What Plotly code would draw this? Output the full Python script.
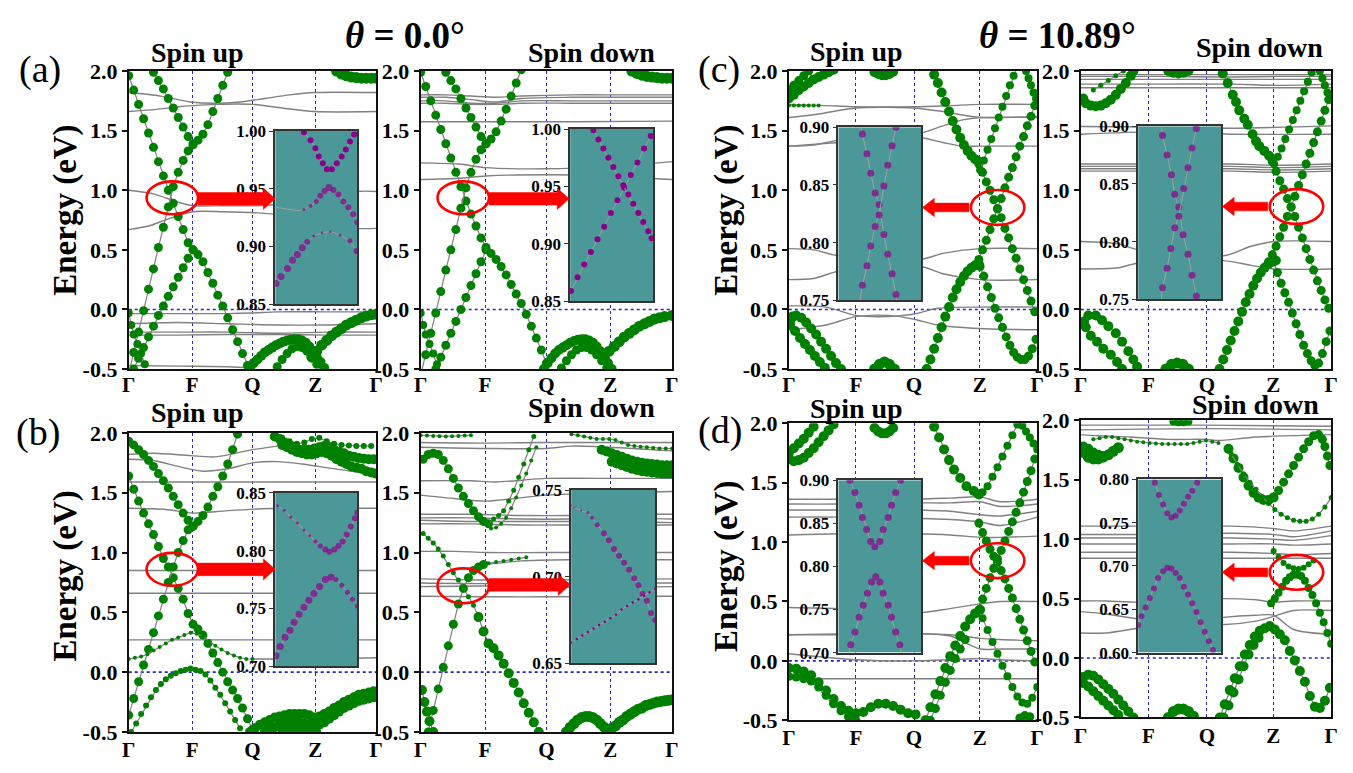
import plotly.graph_objects as go

W, H = 1353, 773
SERIF = "Liberation Serif"
GREEN = "#008000"
BAND_GRAY = "#808080"
PURPLE = "#8b008b"
TEAL = "#4c9898"
RED = "#ff0000"
DOT_BLUE = "#2323c8"

K_LABELS = ["Γ", "F", "Q", "Z", "Γ"]
K_TICKS_LEFT = [0.0, 0.256, 0.50, 0.754, 1.0]
K_TICKS_RIGHT = [0.0, 0.27, 0.504, 0.769, 1.0]
E_TICKS = [-0.5, 0.0, 0.5, 1.0, 1.5, 2.0]
E_TICKTEXT = ["-0.5", "0.0", "0.5", "1.0", "1.5", "2.0"]

# ---------------- (a) theta = 0.0, spin up ----------------
A_UP_GRAY = [
    ([0, .13, .25, .35, .45, .55, .65, .75, 1], [1.82, 1.79, 1.74, 1.73, 1.74, 1.77, 1.80, 1.82, 1.82]),
    ([0, .12, .2, .26, .35, .5, .62, .75, 1], [1.66, 1.68, 1.70, 1.71, 1.72, 1.72, 1.69, 1.66, 1.66]),
    ([0, .1, .2, .26, .38, .5, .6, .75, .92, 1], [1.0, .97, .90, .87, .87, .87, .88, .93, .99, .99]),
    ([0, .08, .16, .26, .38, .52, .62, .75, .92, 1], [.67, .70, .76, .82, .82, .81, .79, .74, .68, .68]),
    ([0, .2, .4, .5, .6, .8, 1], [-.035, -.035, -.035, -.03, -.02, -.02, -.02]),
    ([0, .2, .4, .6, .8, 1], [-.12, -.11, -.12, -.13, -.13, -.12]),
    ([0, .2, .4, .6, .8, 1], [-.19, -.19, -.19, -.20, -.19, -.19]),
    ([0, .2, .4, .6, .8, 1], [-.215, -.215, -.21, -.21, -.215, -.215]),
    ([0, .2, .4, .5], [-.47, -.475, -.48, -.49]),
]
A_UP_GREEN = [
    ((0, .02), [1.96, 1.84, 1.72, 1.60, 1.48, 1.36, 1.24, 1.12, 1.00, 0.89, 0.78, 0.67, 0.56, 0.50, 0.46, 0.40,
                0.31, 0.22, 0.12, 0.03, -0.07, -0.17, -0.27, -0.37, -0.47, -0.56], 8),
    ((0, .02), [-0.54, -0.36, -0.19, -0.01, 0.17, 0.34, 0.52, 0.69, 0.86, 1.03, 1.15, 1.25, 1.33, 1.38, 1.42,
                1.47, 1.55, 1.66, 1.77, 1.88, 1.99], 8),
    ((.10, .02), [1.99, 1.92, 1.85, 1.77, 1.69, 1.61, 1.53, 1.45, 1.39], 8),
    ((.02, .02), [-0.50, -0.41, -0.32, -0.23, -0.14, -0.05, 0.03, 0.11, 0.19, 0.27, 0.35, 0.43, 0.50], 8),
    ([0, .01, .02, .035, .05, .065], [-.03, -.13, -.21, -.29, -.37, -.46], 7),
    ((.49, .015), [-.49, -.45, -.42, -.39, -.36, -.34, -.32, -.30, -.285, -.27, -.26, -.255, -.25, -.25, -.26,
                   -.28, -.31, -.35, -.40, -.44, -.49], 9),
    ((.60, .02), [-.48, -.42, -.37, -.33, -.31, -.32, -.35, -.40, -.46], 8),
    ((.74, .02), [-.40, -.35, -.30, -.26, -.22, -.19, -.16, -.13, -.11, -.09, -.07, -.055, -.045, -.04], 10),
    ((.84, .02), [2.0, 1.975, 1.96, 1.95, 1.945, 1.94, 1.94, 1.94, 1.94], 10),
]
A_UP_INSET = [
    ([.35, .43, .49, .53, .58, .63, .69, .75, .81, .86, .91, .96],
     [.999, .992, .985, .978, .972, .967, .967, .972, .978, .984, .991, .997], 6),
    ([0, .1, .2, .28, .35, .43, .50, .55, .60, .655, .71, .77, .83, .89, .95, 1.0],
     [.934, .933, .932, .931, .932, .935, .939, .944, .948, .951, .949, .945, .939, .934, .928, .921],
     [0, 0, 0, 0, 3, 4, 5, 6, 6, 7, 6, 6, 6, 6, 6, 6]),
    ([.01, .07, .15, .21, .27, .33, .39, .47, .57, .67, .79, .91, .99],
     [.868, .874, .881, .888, .893, .899, .904, .909, .912, .913, .910, .905, .896],
     [7, 7, 7, 7, 7, 7, 6, 3, 2.5, 2.5, 3, 5, 6]),
]

# ---------------- (a) theta = 0.0, spin down ----------------
A_DN_GRAY = [
    ([0, .1, .2, .3, .4, .6, .8, 1], [1.80, 1.80, 1.79, 1.78, 1.79, 1.80, 1.80, 1.80]),
    ([0, .1, .2, .3, .4, .6, .8, 1], [1.78, 1.78, 1.76, 1.74, 1.77, 1.78, 1.78, 1.78]),
    ([0, .1, .2, .3, .4, .6, .8, 1], [1.75, 1.75, 1.73, 1.73, 1.75, 1.75, 1.75, 1.75]),
    ([0, .1, .2, .3, .4, .6, .8, 1], [1.73, 1.73, 1.72, 1.72, 1.73, 1.73, 1.73, 1.73]),
    ([0, .3, .6, 1], [1.575, 1.575, 1.575, 1.58]),
    ([0, .15, .26, .5, .75, 1], [1.23, 1.22, 1.19, 1.18, 1.20, 1.24]),
    ([0, .15, .26, .5, .75, 1], [1.09, 1.10, 1.12, 1.13, 1.12, 1.09]),
]
A_DN_GREEN = [
    ((0, .02), [1.99, 1.87, 1.75, 1.63, 1.51, 1.39, 1.27, 1.15, 1.03, 0.91, 0.80, 0.70, 0.60, 0.52, 0.47, 0.42,
                0.36, 0.29, 0.21, 0.13, 0.05, -0.04, -0.14, -0.24, -0.34, -0.45, -0.55], 8),
    ((0, .02), [-0.55, -0.38, -0.20, -0.03, 0.15, 0.33, 0.50, 0.67, 0.85, 1.02, 1.15, 1.26, 1.34, 1.39, 1.43,
                1.49, 1.58, 1.68, 1.79, 1.90, 2.01], 8),
    ((.10, .02), [1.99, 1.92, 1.85, 1.77, 1.69, 1.61, 1.53, 1.45, 1.39], 8),
    ((.06, .02), [-0.5, -0.40, -0.30, -0.20, -0.10, 0.0, 0.10, 0.20, 0.30, 0.40, 0.50], 8),
    ([0, .01, .02, .035, .05, .065], [-.03, -.13, -.21, -.29, -.37, -.46], 7),
    ((.49, .015), [-.50, -.45, -.41, -.37, -.34, -.32, -.30, -.28, -.265, -.255, -.25, -.25, -.26, -.28, -.31,
                   -.35, -.40, -.45, -.50], 9),
    ((.56, .02), [-.49, -.43, -.38, -.34, -.32, -.32, -.34, -.38, -.43, -.49], 8),
    ([.73, .75, .77, .79, .81, .83, .85, .87, .89, .91, .93, .95, .97, 1.0],
     [-.40, -.35, -.31, -.27, -.23, -.20, -.17, -.14, -.12, -.10, -.08, -.07, -.06, -.05], 10),
    ((.84, .02), [2.0, 1.98, 1.965, 1.955, 1.95, 1.945, 1.94, 1.94, 1.94], 10),
]
A_DN_INSET = [
    ([.01, .09, .17, .25, .33, .41, .49, .57, .65, .73, .81, .89, .97],
     [.859, .871, .882, .893, .904, .915, .927, .938, .949, .960, .971, .983, .994], 6),
    ([.28, .34, .40, .46, .52, .58, .64, .70, .76, .82, .88, .94, .98],
     [.999, .991, .983, .975, .967, .959, .951, .943, .935, .927, .919, .911, .905], 6),
]

# ---------------- (c) theta = 10.89, spin up ----------------
C_UP_GRAY = [
    ([0, .15, .27, .5, .65, .77, 1], [1.72, 1.71, 1.70, 1.70, 1.71, 1.72, 1.72]),
    ([0, .12, .27, .5, .62, .77, 1], [1.61, 1.64, 1.69, 1.69, 1.66, 1.61, 1.62]),
    ([0, .1, .2, .53, .62, .7, .77, 1], [1.37, 1.38, 1.42, 1.48, 1.54, 1.59, 1.61, 1.61]),
    ([0, .2, .53, .62, .7, .77, 1], [1.37, 1.40, 1.44, 1.40, 1.37, 1.37, 1.37]),
    ([0, .1, .2, .53, .62, .77, 1], [.51, .50, .45, .42, .47, .51, .51]),
    ([0, .1, .2, .53, .62, .77, 1], [.25, .26, .32, .36, .30, .25, .25]),
    ([0, .15, .27, .4, .5, .6, .77, 1], [.03, .02, -.05, -.06, -.04, .01, .02, .02]),
    ([0, .15, .27, .4, .5, .6, .77, 1], [-.17, -.13, -.06, -.05, -.08, -.13, -.16, -.17]),
]
C_UP_GREEN = [
    ((0, .02), [1.77, 1.80, 1.84, 1.87, 1.90, 1.93, 1.95, 1.97, 1.99, 2.01], 9),
    ((0, .02), [1.84, 1.88, 1.92, 1.96, 2.0], 8),
    ((0, .02), [1.71, 1.71, 1.71, 1.71, 1.71, 1.71, 1.71], 4),
    ((.345, .015), [1.99, 1.975, 1.965, 1.965, 1.975, 1.995], 9),
    ([.585, .60, .615, .63, .645, .66, .675, .69, .705, .72, .735, .75, .765],
     [1.97, 1.90, 1.82, 1.74, 1.66, 1.58, 1.51, 1.44, 1.38, 1.33, 1.29, 1.26, 1.24], 9),
    ((.765, .015), [1.22, 1.15, 1.07, 1.00, .92, .845, .77, .68, .60, .51, .43, .34, .25, .16, .07, -.02], 8),
    ((.75, .015), [.37, .42, .50, .58, .67, .76, .845, .93, 1.02, 1.11, 1.19, 1.28, 1.37, 1.45, 1.54, 1.62,
                   1.71], 8),
    ((.77, .015), [1.17, 1.25, 1.34, 1.43, 1.52, 1.61, 1.70, 1.79, 1.88, 1.96, 2.04], 7),
    ((.955, .01), [2.0, 1.94, 1.88, 1.82, 1.77], 7),
    ((.555, .015), [-.50, -.42, -.33, -.24, -.15, -.06, .02, .10, .17, .23, .28, .32, .35, .37, .38], 9),
    ((.77, .015), [.36, .28, .19, .10, .01, -.07, -.15, -.23, -.30, -.36, -.40, -.42, -.42, -.39, -.33, -.25], 8),
    ([.005, .015, .03, .05, .07, .09, .11, .13, .15, .17, .19, .21],
     [-.10, -.06, -.05, -.07, -.11, -.16, -.21, -.27, -.33, -.39, -.45, -.50], 9),
    ((.005, .02), [-.13, -.18, -.24, -.29, -.34, -.39, -.44, -.49], 9),
    ((.345, .02), [-.50, -.46, -.44, -.46, -.50], 10),
]
C_UP_INSET = [
    ([.27, .29, .345, .39, .444, .492, .548, .595, .647, .694, .70],
     [.90, .894, .877, .860, .843, .833, .807, .790, .773, .755, .75], [0, 7, 7, 7, 7, 7, 7, 7, 7, 7, 0]),
    ([.70, .694, .647, .595, .548, .492, .444, .39, .345, .29, .26],
     [.905, .90, .884, .867, .849, .824, .814, .797, .780, .763, .75], [0, 7, 7, 7, 7, 7, 7, 7, 7, 7, 0]),
]

# ---------------- (c) theta = 10.89, spin down ----------------
C_DN_GRAY = [
    ([0, .3, .6, .8, 1], [1.97, 1.97, 1.97, 1.97, 1.97]),
    ([0, .3, .6, .8, 1], [1.955, 1.955, 1.95, 1.955, 1.955]),
    ([0, .3, .6, .8, 1], [1.93, 1.93, 1.93, 1.93, 1.93]),
    ([0, .3, .6, .8, 1], [1.89, 1.89, 1.89, 1.88, 1.89]),
    ([0, .3, .6, .8, 1], [1.86, 1.86, 1.86, 1.86, 1.86]),
    ([0, .3, .6, 1], [1.535, 1.53, 1.52, 1.54]),
    ([0, .3, .6, 1], [1.47, 1.49, 1.47, 1.47]),
    ([0, .3, .6, .8, 1], [1.22, 1.22, 1.22, 1.21, 1.22]),
    ([0, .3, .6, .8, 1], [1.20, 1.20, 1.20, 1.19, 1.20]),
    ([0, .3, .6, .8, 1], [1.18, 1.18, 1.18, 1.17, 1.18]),
    ([0, .3, .6, .8, 1], [1.16, 1.16, 1.16, 1.15, 1.16]),
    ([0, .15, .23, .57, .68, .77, 1], [.57, .55, .50, .45, .53, .57, .57]),
    ([0, .15, .23, .57, .68, .77, 1], [.34, .35, .39, .41, .37, .34, .34]),
]
C_DN_GREEN = [
    ([.01, .02, .04, .06, .08, .10, .12, .14, .16, .18, .20, .21],
     [1.77, 1.73, 1.71, 1.705, 1.71, 1.73, 1.76, 1.80, 1.85, 1.90, 1.96, 2.0], 9),
    ((.05, .03), [1.84, 1.88, 1.92, 1.96, 2.0], 5),
    ((.35, .02), [2.0, 1.985, 1.98, 1.985, 2.0], 9),
    ([.567, .587, .607, .62, .633, .653, .667, .686, .70, .713, .733, .752, .765],
     [1.98, 1.90, 1.80, 1.74, 1.67, 1.60, 1.55, 1.47, 1.41, 1.37, 1.33, 1.29, 1.26], 9),
    ((.765, .015), [1.24, 1.16, 1.08, 1.01, .93, .86, .78, .69, .60, .51, .42, .33, .24, .16, .08, .01], 8),
    ((.75, .015), [.40, .46, .53, .61, .69, .78, .86, .95, 1.04, 1.13, 1.22, 1.31, 1.40, 1.49, 1.58, 1.67,
                   1.76], 8),
    ((.772, .015), [1.22, 1.28, 1.35, 1.43, 1.51, 1.59, 1.67, 1.75, 1.83, 1.91, 1.99], 7),
    ((.955, .01), [2.0, 1.94, 1.88, 1.82, 1.77], 7),
    ((.554, .015), [-.50, -.42, -.34, -.26, -.18, -.10, -.02, .06, .13, .20, .26, .31, .35, .38, .40, .41], 9),
    ((.77, .015), [.40, .31, .22, .14, .06, -.03, -.12, -.21, -.30, -.37, -.43, -.47, -.45, -.37, -.27, -.18], 8),
    ([.013, .03, .06, .085, .11, .14, .165, .19, .21, .225],
     [-.10, -.05, -.05, -.09, -.14, -.20, -.27, -.35, -.42, -.48], 9),
    ([.02, .04, .065, .09, .12, .145, .165], [-.15, -.22, -.27, -.33, -.38, -.44, -.50], 9),
    ((.34, .0225), [-.50, -.46, -.45, -.46, -.50], 10),
]
C_DN_INSET = [
    ([.28, .292, .348, .40, .44, .488, .54, .60, .648, .70, .71],
     [.90, .892, .875, .858, .841, .830, .806, .789, .771, .753, .75], [0, 7, 7, 7, 7, 7, 7, 7, 7, 7, 0]),
    ([.71, .70, .648, .60, .548, .488, .44, .392, .348, .292, .28],
     [.905, .898, .881, .864, .846, .822, .812, .794, .777, .760, .75], [0, 7, 7, 7, 7, 7, 7, 7, 7, 7, 0]),
]

# ---------------- (b) spin up ----------------
B_UP_GRAY = [
    ([0, .1, .25, .35, .5, .6], [1.82, 1.83, 1.81, 1.80, 1.86, 1.89]),
    ([0, .1, .2, .3, .4, .5, .6, .7, .8, .9, 1], [1.78, 1.77, 1.72, 1.68, 1.70, 1.75, 1.76, 1.74, 1.71, 1.68, 1.66]),
    ([0, .5, 1], [1.59, 1.59, 1.59]),
    ([0, .15, .26, .4, .6, .8, 1], [1.37, 1.36, 1.33, 1.35, 1.37, 1.37, 1.37]),
    ([0, .5, 1], [.85, .85, .85]),
    ([0, .5, 1], [.66, .66, .66]),
    ([0, .5, 1], [.27, .27, .27]),
    ([.5, .75, 1], [.11, .11, .12]),
]
B_UP_GREEN = [
    ((0, .02), [1.64, 1.53, 1.43, 1.33, 1.24, 1.15, 1.05, .95, .88, .79, .70, .61, .49, .40, .36, .31, .24, .16,
                .08, 0.0, -.08, -.15, -.22, -.30, -.39, -.48], 8),
    ((0, .02), [-.36, -.22, -.08, .06, .19, .33, .47, .61, .75, .88, 1.00, 1.10, 1.19, 1.22, 1.26, 1.31, 1.38,
                1.47, 1.55, 1.64, 1.74, 1.86, 1.99], 8),
    ((0, .02), [1.93, 1.90, 1.86, 1.82, 1.77, 1.72, 1.66, 1.60, 1.54, 1.47, 1.40, 1.33, 1.27, 1.22], 8),
    ((.01, .02), [-.50, -.43, -.35, -.28, -.21, -.15, -.10, -.06, -.03, -.01, .01, .02, .03, .02, .01, -.02,
                  -.07, -.13, -.19, -.26, -.33, -.40, -.47], 6),
    ((0, .025), [.11, .12, .13, .15, .18, .21, .24, .27, .29, .31, .33, .32, .30, .26, .22, .19, .16, .14, .12,
                 .11, .11], 4),
    ((.59, .03), [1.99, 1.96, 1.93, 1.91, 1.92, 1.95, 1.96, 1.93, 1.91, 1.90, 1.895, 1.89, 1.89, 1.89], 6),
    ((.59, .02), [1.97, 1.95, 1.92, 1.90, 1.88, 1.86, 1.86, 1.86, 1.87, 1.88, 1.89, 1.88, 1.86, 1.84, 1.83,
                  1.81, 1.80, 1.79, 1.785, 1.78, 1.78], 9),
    ((.62, .02), [1.90, 1.88, 1.86, 1.84, 1.83, 1.82, 1.82, 1.83, 1.84, 1.83, 1.81, 1.78, 1.76, 1.74, 1.72,
                  1.71, 1.70, 1.68, 1.67, 1.66], 9),
    ((.49, .02), [-.50, -.47, -.44, -.42, -.40, -.38, -.37, -.36, -.35, -.35, -.35, -.35, -.36, -.38, -.37,
                  -.35, -.33, -.30, -.28, -.25, -.23, -.21, -.19, -.18, -.17, -.16], 9),
    ((.55, .02), [-.50, -.48, -.46, -.44, -.43, -.42, -.42, -.42, -.43, -.44, -.45, -.44, -.42, -.39, -.36,
                  -.33, -.30, -.28, -.26, -.24, -.23, -.22, -.21], 9),
    ((.62, .02), [-.50, -.49, -.48, -.48, -.48, -.48, -.49, -.50], 8),
]
B_UP_INSET = [
    ([.03, .11, .19, .27, .35, .42, .49, .55, .61, .66, .72, .77, .82, .87, .92, .97, 1.0],
     [.839, .835, .829, .824, .818, .813, .808, .804, .801, .799, .801, .804, .808, .814, .821, .828, .833],
     [3, 3, 3, 3, 3, 3, 4, 5, 6, 6, 6, 6, 6, 6, 6, 6, 6]),
    ([.01, .06, .12, .18, .23, .29, .35, .41, .47, .54, .61, .68, .74, .81, .88, .94, 1.0],
     [.709, .717, .725, .731, .738, .745, .751, .757, .763, .769, .775, .777, .775, .770, .764, .758, .752],
     [7, 7, 7, 7, 7, 7, 7, 7, 7, 7, 7, 7, 5, 5, 5, 5, 5]),
]

# ---------------- (b) spin down ----------------
B_DN_GRAY = [
    ([0, .26, .5, .6, .75, 1], [1.88, 1.87, 1.87, 1.89, 1.88, 1.85]),
    ([0, .26, .5, 1], [1.92, 1.915, 1.92, 1.92]),
    ([0, .2, .3, .5, .7, 1], [1.60, 1.60, 1.59, 1.62, 1.62, 1.62]),
    ([0, .14, .26, .5, .75, 1], [1.48, 1.45, 1.43, 1.48, 1.50, 1.51]),
    ([0, .2, .4, .6, .8, 1], [1.32, 1.32, 1.31, 1.31, 1.32, 1.32]),
    ([0, .2, .4, .6, .8, 1], [1.29, 1.29, 1.28, 1.28, 1.29, 1.28]),
    ([0, .2, .4, .6, .8, 1], [1.27, 1.26, 1.26, 1.26, 1.26, 1.25]),
    ([0, .2, .4, .6, .8, 1], [1.24, 1.24, 1.23, 1.23, 1.23, 1.23]),
    ([0, .14, .26, .5, 1], [1.01, 1.01, 1.0, 1.0, 1.0]),
    ([0, .26, .5, 1], [.78, .77, .77, .78]),
    ([0, .26, .5, 1], [.745, .74, .745, .745]),
    ([0, .26, .5, 1], [.715, .72, .71, .715]),
    ([0, .26, .5, 1], [.635, .63, .63, .635]),
    ([.26, .4, .6, 1], [.90, .93, .94, .94]),
]
B_DN_GREEN = [
    ((.01, .02), [1.16, 1.12, 1.08, 1.03, .97, .90, .83, .77, .70, .63, .56, .46], 5),
    ((.23, .02), [.46, .34, .24, .20, .14, .07, -.01, -.09, -.17, -.26, -.34, -.42, -.50], 9),
    ((.03, .02), [-.50, -.32, -.14, .04, .22, .40, .57, .70, .79, .85, .88, .90], 8),
    ((.27, .03), [.91, .92, .93, .94, .95, .96], 4),
    ([.005, .015, .025, .035, .05], [-.15, -.25, -.33, -.41, -.50], 9),
    ((.01, .02), [1.78, 1.82, 1.83, 1.82, 1.77, 1.70, 1.62, 1.54, 1.47, 1.41, 1.35, 1.30, 1.26, 1.24], 8),
    ((.27, .02), [1.24, 1.28, 1.31, 1.35, 1.43, 1.52, 1.63, 1.74, 1.86, 1.97], 5),
    ((.28, .02), [1.20, 1.21, 1.24, 1.29, 1.37, 1.46, 1.56, 1.66, 1.77, 1.88], 4),
    ((.6, .025), [1.99, 1.98, 1.97, 1.96, 1.95, 1.95, 1.95, 1.94, 1.92, 1.90, 1.89, 1.885, 1.88, 1.875, 1.87,
                  1.87, 1.87], 4),
    ((.72, .02), [1.86, 1.845, 1.83, 1.815, 1.80, 1.785, 1.77, 1.76, 1.75, 1.745, 1.74, 1.735, 1.73, 1.73,
                  1.73], 9),
    ((.76, .02), [1.76, 1.745, 1.73, 1.715, 1.70, 1.69, 1.68, 1.675, 1.67, 1.665, 1.66, 1.66, 1.66], 9),
    ((0, .025), [1.98, 1.978, 1.975, 1.972, 1.97, 1.972, 1.975, 1.978, 1.98], 4),
    ((.58, .015), [-.50, -.46, -.43, -.40, -.38, -.37, -.37, -.38, -.40, -.43, -.46, -.48, -.47, -.45, -.42,
                   -.40, -.37, -.35, -.33, -.31, -.30, -.28, -.27, -.26, -.25, -.245, -.24, -.235, -.23], 10),
]
B_DN_INSET = [
    ([.0, .04, .12, .20, .25, .31, .39, .45, .51, .57, .63, .69, .75, .80, .85, .90, .95, 1.0],
     [.741, .740, .738, .737, .734, .730, .725, .721, .716, .712, .708, .704, .699, .695, .690, .686, .679, .675],
     [2, 2, 2, 3, 4, 5, 6, 6, 6, 6, 6, 6, 6, 6, 6, 6, 6, 6]),
    ([0, .067, .133, .2, .267, .333, .4, .467, .533, .6, .667, .733, .8, .867, .933, 1.0],
     [.662, .664, .666, .668, .670, .672, .674, .676, .678, .681, .683, .685, .687, .689, .691, .693], 2.5),
]

# ---------------- (d) spin up ----------------
D_UP_GRAY = [
    ([0, .2, .5, .65, .77, .85, 1], [1.36, 1.36, 1.36, 1.37, 1.38, 1.34, 1.36]),
    ([0, .2, .5, .65, .77, .85, 1], [1.32, 1.32, 1.33, 1.33, 1.34, 1.30, 1.32]),
    ([0, .2, .5, .65, .77, .85, 1], [1.27, 1.27, 1.27, 1.26, 1.23, 1.22, 1.26]),
    ([0, .2, .5, .65, .77, .85, 1], [1.21, 1.21, 1.20, 1.19, 1.17, 1.14, 1.21]),
    ([0, .2, .5, .65, .77, .85, 1], [1.06, 1.07, 1.07, 1.06, 1.04, 1.04, 1.05]),
    ([0, .2, .5, .65, .77, .85, 1], [.45, .44, .40, .44, .48, .50, .50]),
    ([0, .2, .5, .65, .77, .85, 1], [.22, .22, .23, .22, .19, .18, .17]),
    ([0, .5, .65, .77, .85, 1], [.22, .23, .21, .10, .10, .10]),
    ([0, .27, .5, .65, .77, .85, 1], [.06, .01, .00, .01, .02, .01, .00]),
    ([0, .3, .6, .8, 1], [-.15, -.15, -.15, -.15, -.15]),
]
D_UP_GREEN = [
    ((0, .02), [1.70, 1.68, 1.69, 1.71, 1.75, 1.79, 1.84, 1.89, 1.94, 1.99], 9),
    ((0, .02), [1.75, 1.79, 1.83, 1.87, 1.92, 1.97], 9),
    ([.345, .36, .375, .39, .405, .42], [1.96, 1.93, 1.915, 1.915, 1.93, 1.96], 9),
    ([.585, .605, .625, .645, .665, .69, .715, .745, .765], [1.97, 1.88, 1.78, 1.69, 1.61, 1.54, 1.47, 1.43, 1.40], 9),
    ((.78, .02), [1.42, 1.47, 1.55, 1.63, 1.72, 1.81, 1.90, 1.99], 7),
    ((.765, .015), [1.16, 1.08, 1.01, .94, .88, .83, .76, .69, .61, .53, .44, .35, .26, .17, .08, -.01], 8),
    ((.765, .015), [.43, .52, .61, .70, .78, .86, .93, 1.01, 1.09, 1.17, 1.25, 1.33, 1.42, 1.51, 1.60, 1.70], 8),
    ((.94, .015), [1.98, 1.93, 1.88, 1.83, 1.78], 7),
    ((.55, .02), [-.50, -.39, -.28, -.17, -.06, .04, .13, .21, .29, .35, .40, .43], 9),
    ((.57, .02), [-.50, -.40, -.29, -.18, -.08, .02, .10, .18], 8),
    ((.78, .02), [.36, .26, .16, .06, -.04, -.13, -.22, -.30, -.35, -.36, -.31, -.22], 7),
    ((0, .03), [-.06, -.065, -.09, -.12, -.18, -.25, -.32, -.38, -.42, -.44, -.43, -.39, -.36, -.36, -.38, -.41,
                -.44, -.45], 9),
    ((0, .03), [-.13, -.135, -.15, -.17, -.22, -.29, -.36, -.42, -.47, -.50], 8),
    ([.93, .95, .97], [-.48, -.46, -.47], 8),
]
D_UP_INSET = [
    ([.12, .14, .20, .25, .29, .34, .39, .44, .50, .54, .60, .64, .69, .75, .77],
     [.91, .90, .886, .871, .857, .843, .829, .823, .829, .843, .857, .871, .886, .90, .91],
     [0, 7, 7, 7, 7, 7, 7, 7, 7, 7, 7, 7, 7, 7, 0]),
    ([.13, .15, .20, .25, .30, .35, .40, .45, .50, .54, .60, .64, .69, .74, .76],
     [.70, .709, .724, .741, .755, .769, .782, .788, .782, .769, .755, .741, .724, .709, .70],
     [0, 7, 7, 7, 7, 7, 7, 7, 7, 7, 7, 7, 7, 7, 0]),
]

# ---------------- (d) spin down ----------------
D_DN_GRAY = [
    ([0, .5, 1], [1.96, 1.96, 1.95]),
    ([0, .5, 1], [1.92, 1.93, 1.92]),
    ([0, .07, .2, .35, .5, .55, .7, 1], [1.88, 1.87, 1.86, 1.84, 1.84, 1.83, 1.86, 1.88]),
    ([0, .3, .6, .77, .85, 1], [1.11, 1.11, 1.11, 1.09, 1.07, 1.11]),
    ([0, .3, .6, .77, .85, 1], [1.04, 1.04, 1.05, 1.04, 1.02, 1.07]),
    ([0, .3, .6, .77, .85, 1], [1.01, 1.01, 1.01, 1.00, .99, 1.03]),
    ([0, .3, .6, .77, .85, 1], [.96, .96, .96, .96, .95, .96]),
    ([0, .3, .6, .77, .85, 1], [.89, .89, .89, .88, .87, .88]),
    ([0, .3, .6, .77, .85, 1], [.84, .84, .84, .84, .84, .84]),
    ([0, .1, .23, .56, .7, .77, .85, 1], [.48, .48, .47, .50, .49, .47, .48, .48]),
    ([0, .1, .23, .56, .7, .77, .85, 1], [.39, .37, .33, .28, .31, .35, .40, .40]),
    ([0, .1, .23, .56, .7, .77, .85, 1], [.21, .21, .25, .34, .36, .36, .24, .20]),
]
D_DN_GREEN = [
    ([.01, .03, .05, .07, .09, .11, .13, .15], [1.73, 1.69, 1.675, 1.675, 1.69, 1.71, 1.74, 1.77], 10),
    ([.01, .03, .05, .07, .09], [1.78, 1.76, 1.73, 1.71, 1.70], 9),
    ((.05, .025), [1.84, 1.85, 1.86, 1.86, 1.85, 1.84, 1.83, 1.82, 1.815, 1.81, 1.805, 1.80, 1.80, 1.80, 1.80,
                   1.80, 1.81, 1.82, 1.83, 1.82, 1.81], 4),
    ((.37, .02), [1.99, 1.985, 1.985, 1.99], 7),
    ((.59, .02), [1.76, 1.68, 1.60, 1.52, 1.45, 1.39, 1.35, 1.33, 1.33, 1.35], 9),
    ((.79, .02), [1.41, 1.48, 1.55, 1.62, 1.69, 1.76, 1.82, 1.87, 1.88], 8),
    ([.965, .975, .985, .995], [1.84, 1.78, 1.70, 1.62], 8),
    ((.60, .025), [1.72, 1.63, 1.55, 1.48, 1.42, 1.36, 1.30, 1.25, 1.21, 1.18, 1.16, 1.15, 1.15, 1.17, 1.21,
                   1.27, 1.35], 5),
    ((.77, .02), [.90, .85, .80, .77, .755, .75, .76, .79, .82], 6),
    ((.76, .015), [.46, .50, .55, .60, .65, .68, .70, .70, .69, .65, .59, .53, .46, .38, .30, .21, .12], 7),
    ((.555, .02), [-.50, -.39, -.27, -.17, -.07, .03, .11, .18, .23, .25, .27, .24, .20, .15, .06, -.02, -.11,
                   -.20, -.32, -.41, -.42, -.36, -.25], 9),
    ((.57, .02), [-.50, -.40, -.29, -.18, -.07, .03, .11, .17], 9),
    ((.01, .02), [-.16, -.14, -.15, -.18, -.22, -.26, -.30, -.35, -.40, -.45, -.50], 9),
    ((.01, .02), [-.21, -.24, -.28, -.32, -.36, -.40, -.44, -.48], 9),
    ((.35, .02), [-.50, -.45, -.43, -.43, -.45, -.49], 10),
]
D_DN_INSET = [
    ([.17, .20, .25, .30, .35, .40, .45, .50, .55, .60, .65, .71, .73],
     [.805, .796, .782, .771, .761, .756, .758, .764, .772, .780, .787, .796, .80],
     [0, 6, 6, 6, 6, 6, 6, 6, 6, 6, 6, 6, 0]),
    ([0, .04, .09, .14, .19, .24, .30, .35, .40, .45, .50, .55, .60, .65, .70, .75, .80, .85, .90, .93],
     [.632, .642, .652, .663, .674, .686, .694, .698, .697, .692, .686, .676, .667, .657, .647, .635, .624,
      .613, .603, .597],
     [6] * 19 + [0]),
]

# ---------------- layout geometry (pixels) ----------------
PANELS = [
    dict(dom=(123, 373, 61, 369), kt=K_TICKS_LEFT, gray=A_UP_GRAY, green=A_UP_GREEN,
         ins=A_UP_INSET, idom=(271, 354, 123, 302), ir=(0.85, 1.00), itk=[0.85, 0.90, 0.95, 1.00],
         title=("Spin up", 192, 42), ell=(167, 192, 26, 17), arr=(193, 271, 193, 6.5), sto=-4),
    dict(dom=(418, 672, 61, 369), kt=K_TICKS_LEFT, gray=A_DN_GRAY, green=A_DN_GREEN,
         ins=A_DN_INSET, idom=(569, 653, 121, 299), ir=(0.85, 1.00), itk=[0.85, 0.90, 0.95, 1.00],
         title=("Spin down", 591, 42), ell=(461, 192, 26, 17), arr=(487, 568, 193, 6.5), sto=-4),
    dict(dom=(790, 1041, 61, 369), kt=K_TICKS_RIGHT, gray=C_UP_GRAY, green=C_UP_GREEN,
         ins=C_UP_INSET, idom=(840, 924, 119, 298), ir=(0.75, 0.90), itk=[0.75, 0.80, 0.85, 0.90],
         title=("Spin up", 858, 41), ell=(1001, 202, 27, 18), arr=(972, 925, 202, 4.5), sto=-4),
    dict(dom=(1085, 1338, 61, 369), kt=K_TICKS_RIGHT, gray=C_DN_GRAY, green=C_DN_GREEN,
         ins=C_DN_INSET, idom=(1143, 1227, 118, 297), ir=(0.75, 0.90), itk=[0.75, 0.80, 0.85, 0.90],
         title=("Spin down", 1266, 37), ell=(1303, 201, 27, 18), arr=(1274, 1228, 201, 4.5), sto=-4),
    dict(dom=(123, 373, 435, 744), kt=K_TICKS_LEFT, gray=B_UP_GRAY, green=B_UP_GREEN,
         ins=B_UP_INSET, idom=(271, 354, 497, 676), ir=(0.70, 0.85), itk=[0.70, 0.75, 0.80, 0.85],
         title=("Spin up", 192, 414), ell=(167, 576, 26, 17), arr=(193, 271, 576, 6.5), sto=-2),
    dict(dom=(418, 672, 435, 744), kt=K_TICKS_LEFT, gray=B_DN_GRAY, green=B_DN_GREEN,
         ins=B_DN_INSET, idom=(570, 655, 494, 673), ir=(0.65, 0.75), itk=[0.65, 0.70, 0.75],
         title=("Spin down", 591, 409), ell=(461, 593, 26, 18), arr=(487, 569, 592, 6.5), sto=-2),
    dict(dom=(790, 1041, 425, 732), kt=K_TICKS_RIGHT, gray=D_UP_GRAY, green=D_UP_GREEN,
         ins=D_UP_INSET, idom=(840, 924, 484, 662), ir=(0.70, 0.90), itk=[0.70, 0.75, 0.80, 0.85, 0.90],
         title=("Spin up", 858, 410), ell=(1001, 567, 27, 18), arr=(972, 925, 567, 4.5), sto=-2),
    dict(dom=(1085, 1338, 422, 729), kt=K_TICKS_RIGHT, gray=D_DN_GRAY, green=D_DN_GREEN,
         ins=D_DN_INSET, idom=(1143, 1227, 483, 662), ir=(0.60, 0.80), itk=[0.60, 0.65, 0.70, 0.75, 0.80],
         title=("Spin down", 1262, 406), ell=(1303, 579, 27, 18), arr=(1274, 1228, 579, 4.5), sto=-2),
]

LETTERS = [("(a)", 33, 59), ("(b)", 31, 435), ("(c)", 719, 59), ("(d)", 720, 432)]
THETAS = [("<i>θ</i> = 0.0°", 402, 24), ("<i>θ</i> = 10.89°", 1061, 24)]
YTITLES = [(59, 205), (727, 205), (59, 583), (727, 573)]


def kgrid(spec, n):
    if isinstance(spec, tuple):
        return [round(spec[0] + i * spec[1], 4) for i in range(n)]
    return list(spec)


def fx(p):
    return p / W


def fy(p):
    return 1 - p / H


def suf(n):
    return "" if n == 1 else str(n)


fig = go.Figure()
layout = {}
shapes = []
annotations = []
bold = dict(family=SERIF, color="black", weight="bold")

for i, p in enumerate(PANELS):
    n, m = i + 1, i + 9
    xa, ya = "x" + suf(n), "y" + suf(n)
    xi, yi = "x" + str(m), "y" + str(m)
    for ks, es in p["gray"]:
        fig.add_trace(go.Scatter(x=ks, y=es, xaxis=xa, yaxis=ya, mode="lines",
                                 line=dict(color=BAND_GRAY, width=1.4, shape="spline", smoothing=0.8),
                                 hoverinfo="skip", showlegend=False))
    for spec, es, s in p["green"]:
        fig.add_trace(go.Scatter(x=kgrid(spec, len(es)), y=es, xaxis=xa, yaxis=ya, mode="lines+markers",
                                 line=dict(color=BAND_GRAY, width=1.2),
                                 marker=dict(color=GREEN, size=(s + 1 if s >= 7 else s), line=dict(width=0)),
                                 hoverinfo="skip", showlegend=False))
    for xs, es, s in p["ins"]:
        fig.add_trace(go.Scatter(x=xs, y=es, xaxis=xi, yaxis=yi, mode="lines+markers",
                                 line=dict(color="#a0a0a0", width=1),
                                 marker=dict(color=PURPLE, size=s, line=dict(width=0)),
                                 hoverinfo="skip", showlegend=False))

    x0, x1, y0, y1 = p["dom"]
    layout["xaxis" + suf(n)] = dict(
        domain=[fx(x0), fx(x1)], range=[0, 1], anchor=ya, tickmode="array", tickvals=p["kt"],
        ticktext=K_LABELS, ticks="", showgrid=True, gridcolor=DOT_BLUE, griddash="dot", gridwidth=1,
        zeroline=False, showline=True, mirror=True, linecolor="#111", linewidth=1.8,
        tickfont=dict(size=21, **bold), ticklabelstandoff=p["sto"], fixedrange=True)
    layout["yaxis" + suf(n)] = dict(
        domain=[fy(y1), fy(y0)], range=[-0.5, 2.0], anchor=xa, tickmode="array", tickvals=E_TICKS,
        ticktext=E_TICKTEXT, ticks="outside", ticklen=5, tickwidth=1.5, tickcolor="#111",
        showgrid=False, zeroline=False, showline=True, mirror=True, linecolor="#111", linewidth=1.8,
        tickfont=dict(size=22, **bold), fixedrange=True)

    ix0, ix1, iy0, iy1 = p["idom"]
    layout["xaxis" + str(m)] = dict(
        domain=[fx(ix0), fx(ix1)], range=[0, 1], anchor=yi, showticklabels=False, ticks="",
        showgrid=False, zeroline=False, showline=True, mirror=True, linecolor="#333", linewidth=1.5,
        fixedrange=True)
    layout["yaxis" + str(m)] = dict(
        domain=[fy(iy1), fy(iy0)], range=list(p["ir"]), anchor=xi, tickmode="array", tickvals=p["itk"],
        ticktext=["%.2f" % v for v in p["itk"]], ticks="outside", ticklen=4, tickwidth=1.2, tickcolor="#333",
        showgrid=False, zeroline=False, showline=True, mirror=True, linecolor="#333", linewidth=1.5,
        tickfont=dict(size=17, **bold), fixedrange=True)

    # inset background
    shapes.append(dict(type="rect", xref=xi, yref=yi, x0=0, x1=1, y0=p["ir"][0], y1=p["ir"][1],
                       fillcolor=TEAL, line=dict(width=0), layer="below"))
    # Fermi level
    shapes.append(dict(type="line", xref=xa, yref=ya, x0=0, x1=1, y0=0, y1=0,
                       line=dict(color=DOT_BLUE, width=1.6, dash="dot"), layer="below"))
    # red ellipse
    cx, cy, rx, ry = p["ell"]
    shapes.append(dict(type="circle", xref="paper", yref="paper", x0=fx(cx - rx), x1=fx(cx + rx),
                       y0=fy(cy + ry), y1=fy(cy - ry), line=dict(color=RED, width=2.6), layer="above"))
    # red arrow
    tail, tip, ay, hs = p["arr"]
    d = 1 if tip > tail else -1
    hb = tip - d * 12
    hh = 11 if hs > 5 else 9.5
    pts = [(tail, ay - hs), (hb, ay - hs), (hb, ay - hh), (tip, ay), (hb, ay + hh), (hb, ay + hs), (tail, ay + hs)]
    path = "M " + " L ".join("%.5f,%.5f" % (fx(a), fy(b)) for a, b in pts) + " Z"
    shapes.append(dict(type="path", xref="paper", yref="paper", path=path, fillcolor=RED,
                       line=dict(color=RED, width=0.5), layer="above"))

    t, tx, ty = p["title"]
    annotations.append(dict(text=t, x=fx(tx), y=fy(ty), xref="paper", yref="paper", showarrow=False,
                            xanchor="center", yanchor="middle", font=dict(size=28, **bold)))

for t, tx, ty in LETTERS:
    annotations.append(dict(text=t, x=fx(tx), y=fy(ty), xref="paper", yref="paper", showarrow=False,
                            xanchor="center", yanchor="middle",
                            font=dict(family=SERIF, size=38, color="black")))
for t, tx, ty in THETAS:
    annotations.append(dict(text=t, x=fx(tx), y=fy(ty), xref="paper", yref="paper", showarrow=False,
                            xanchor="center", yanchor="middle", font=dict(size=37, **bold)))
for tx, ty in YTITLES:
    annotations.append(dict(text="Energy (eV)", x=fx(tx), y=fy(ty), xref="paper", yref="paper",
                            showarrow=False, textangle=-90, xanchor="center", yanchor="middle",
                            font=dict(size=33, **bold)))

fig.update_layout(width=W, height=H, margin=dict(l=0, r=0, t=0, b=0), paper_bgcolor="white",
                  plot_bgcolor="white", showlegend=False, shapes=shapes, annotations=annotations,
                  **layout)
fig.write_html("out.html", config={"displayModeBar": False},
               post_script="document.body.style.margin='0px';")
